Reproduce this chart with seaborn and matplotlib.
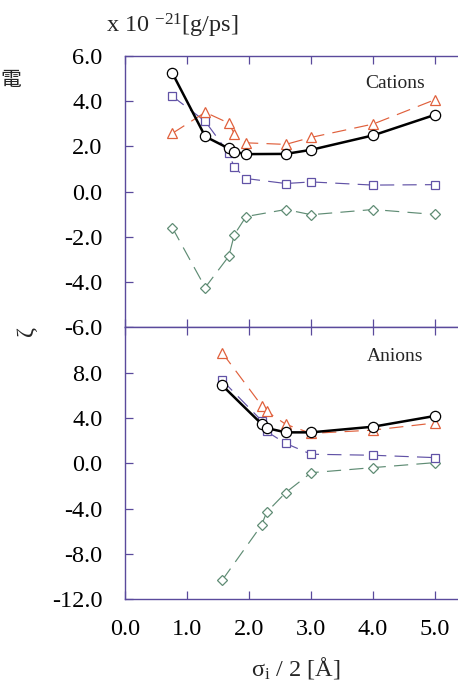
import numpy as np
import pandas as pd
import matplotlib
matplotlib.use("Agg")
import matplotlib.pyplot as plt
import seaborn as sns

# ---- data -------------------------------------------------------------
cation_x = [0.76, 1.29, 1.67, 1.76, 1.95, 2.59, 3.00, 4.00, 5.00]
cation_total = [5.24, 2.44, 1.91, 1.76, 1.66, 1.67, 1.85, 2.49, 3.40]
cation_tri = [2.58, 3.51, 3.03, 2.56, 2.16, 2.09, 2.40, 2.99, 4.07]
cation_sq = [4.22, 3.11, 1.69, 1.08, 0.58, 0.36, 0.43, 0.29, 0.31]
cation_dia = [-1.60, -4.24, -2.86, -1.90, -1.10, -0.79, -1.02, -0.79, -1.01]

anion_x = [1.565, 2.20, 2.28, 2.59, 3.00, 4.00, 5.00]
anion_total = [6.87, 3.47, 3.11, 2.73, 2.73, 3.23, 4.18]
anion_tri = [9.75, 5.10, 4.59, 3.44, 2.64, 2.93, 3.56]
anion_sq = [7.32, 3.76, 2.81, 1.75, 0.80, 0.71, 0.50]
anion_dia = [-10.31, -5.45, -4.33, -2.58, -0.83, -0.38, 0.06]

top_yticks = [-6, -4, -2, 0, 2, 4, 6]
bottom_yticks = [-12, -8, -4, 0, 4, 8]
xticks = [0, 1, 2, 3, 4, 5]

# ---- style ------------------------------------------------------------
sns.set_theme(style="white")
plt.rcParams["font.family"] = ["Liberation Serif", "DejaVu Serif"]
plt.rcParams["mathtext.fontset"] = "stix"
plt.rcParams["mathtext.default"] = "regular"

FRAME = "#5a4a9c"
RED = "#e0603c"
PURPLE = "#6152a6"
GREEN = "#5f8c74"
DASH = (0, (12, 7))

fig = plt.figure(figsize=(4.58, 6.91), dpi=100)
left = 125.3 / 458
ax_top = fig.add_axes([left, 1 - 327.3 / 691, 1 - left, (327.3 - 56) / 691])
ax_bot = fig.add_axes([left, 1 - 599.3 / 691, 1 - left, (599.3 - 327.3) / 691])


def draw_panel(ax, x, total, tri, sq, dia):
    series = [
        (dia, GREEN, "D", 4.6, 1),
        (sq, PURPLE, "s", 6.4, 2),
        (tri, RED, "^", 6.8, 3),
    ]
    for vals, col, mk, ms, z in series:
        df = pd.DataFrame({"x": x, "y": vals})
        sns.lineplot(data=df, x="x", y="y", ax=ax, sort=False, estimator=None,
                     color=col, linewidth=0.85, linestyle=DASH,
                     marker=mk, markersize=ms, markerfacecolor="white",
                     markeredgecolor=col, markeredgewidth=0.9, zorder=z)
    df = pd.DataFrame({"x": x, "y": total})
    sns.lineplot(data=df, x="x", y="y", ax=ax, sort=False, estimator=None,
                 color="black", linewidth=1.8, marker="o", markersize=7.4,
                 markerfacecolor="white", markeredgecolor="black",
                 markeredgewidth=0.9, zorder=5)


draw_panel(ax_top, cation_x, cation_total, cation_tri, cation_sq, cation_dia)
draw_panel(ax_bot, anion_x, anion_total, anion_tri, anion_sq, anion_dia)

for ax, yt, lim in [(ax_top, top_yticks, (-6, 6)), (ax_bot, bottom_yticks, (-12, 12))]:
    ax.set_xlim(0, 5.37)
    ax.set_ylim(*lim)
    ax.set_yticks(yt)
    ax.set_yticklabels([f"{v:.1f}" for v in yt])
    ax.set_xticks(xticks)
    ax.set_xticklabels([f"{v:.1f}" for v in xticks])
    ax.set_xlabel("")
    ax.set_ylabel("")
    ax.spines["right"].set_visible(False)
    for s in ["left", "top", "bottom"]:
        ax.spines[s].set_color(FRAME)
        ax.spines[s].set_linewidth(1.0)
    ax.tick_params(axis="both", direction="in", length=6, width=0.9,
                   color=FRAME, labelcolor="black", labelsize=17.5)
    ax.tick_params(axis="x", top=True, bottom=True, pad=14)
    ax.tick_params(axis="y", left=True, right=False, pad=16.5)
    ax.set_facecolor("white")

ax_top.tick_params(axis="x", labelbottom=False)

ax_top.text(395.5 / 458, 1 - 84 / 691, "Cations", transform=fig.transFigure,
            ha="center", va="center", fontsize=14)
ax_bot.text(395 / 458, 1 - 356.5 / 691, "Anions", transform=fig.transFigure,
            ha="center", va="center", fontsize=14)

fig.text(106 / 458, 1 - 32 / 691, r"x 10 $^{-21}$[g/ps]", ha="left",
         va="baseline", fontsize=17.5)
fig.text(296 / 458, 1 - 668 / 691, r"$\sigma_{i}$ / 2 [Å]", ha="center",
         va="center", fontsize=17.5)
fig.text(27 / 458, 1 - 331 / 691, "ζ", rotation=90, ha="center",
         va="center", fontsize=17.5)
fig.text(0.5 / 458, 1 - 80 / 691, "電", ha="left", va="center", fontsize=15,
         family=["Noto Sans CJK JP", "DejaVu Sans"])

fig.savefig("out.png", dpi=100)
